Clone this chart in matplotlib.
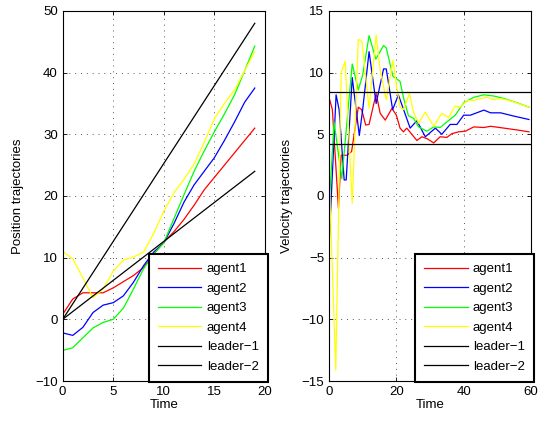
import matplotlib
matplotlib.use("Agg")
import matplotlib.pyplot as plt
import numpy as np

plt.rcParams['font.family'] = ['Liberation Sans', 'DejaVu Sans']

# ---------------- Position data ----------------
t_pos = list(range(20))
pos_agent1 = [0.8, 3.3, 4.3, 4.3, 4.3, 5.1, 6.1, 7.1, 8.4, 10.6, 12.5, 14.2, 16.2, 18.5, 21.0, 23.0, 25.0, 27.0, 29.0, 31.0]
pos_agent2 = [-2.2, -2.6, -1.3, 1.1, 2.3, 2.7, 3.8, 6.0, 8.7, 10.9, 12.4, 15.5, 19.0, 21.8, 24.0, 26.2, 29.0, 32.0, 35.2, 37.5]
pos_agent3 = [-5.05, -4.6, -3.0, -1.4, -0.5, 0.0, 1.8, 4.9, 8.2, 10.6, 12.4, 16.3, 20.2, 24.0, 27.3, 30.4, 33.3, 36.4, 40.3, 44.3]
pos_agent4 = [11.0, 9.8, 6.7, 3.5, 4.9, 7.8, 9.6, 10.1, 10.9, 13.9, 17.5, 20.5, 22.7, 25.2, 28.7, 32.5, 35.0, 37.2, 40.3, 43.4]
pos_leader1_end = 48.0
pos_leader2_end = 24.0

# ---------------- Velocity data ----------------
vt_agent1 = [0, 1, 2.8, 3.6, 5.3, 6.7, 8.7, 9.7, 10.9, 11.9, 14, 15.2, 16.7, 18.7, 20, 21.1, 22.1, 23.1, 26.1, 27.6, 29.1, 31.1, 33, 35, 36.5, 38.5, 40.5, 43, 46, 48, 52, 55.9, 59.4]
v_agent1 = [8.0, 7.0, -1.0, 3.3, 3.3, 3.6, 7.2, 7.0, 5.75, 5.8, 8.3, 6.7, 6.15, 7.1, 6.55, 5.5, 5.2, 5.5, 4.5, 4.8, 4.65, 4.3, 4.8, 4.75, 5.05, 5.2, 5.25, 5.6, 5.55, 5.65, 5.5, 5.35, 5.2]

vt_agent2 = [0, 2.1, 3, 4.5, 5.1, 6.9, 9, 10, 11.9, 14, 16.2, 17, 18.9, 20.6, 24.1, 26.1, 28.6, 31.6, 33.5, 36, 38, 40, 42, 46, 48, 51, 55, 59.4]
v_agent2 = [-4.0, 8.2, 7.0, 1.3, 1.3, 9.6, 4.9, 7.0, 11.7, 7.5, 10.3, 10.3, 7.0, 8.2, 5.5, 6.1, 4.8, 5.5, 5.0, 5.8, 5.8, 6.55, 6.55, 6.96, 6.74, 6.74, 6.47, 6.2]

vt_agent3 = [0, 1.5, 3.8, 6.9, 8.7, 10, 11.9, 13.9, 16.2, 17, 19, 20, 21.1, 22.1, 23.6, 25.1, 26.6, 29.1, 31.1, 33, 35, 37.5, 40, 43, 46, 49, 52, 55.9, 59.4]
v_agent3 = [-1.0, 6.0, 1.4, 10.7, 8.6, 9.8, 13.0, 11.1, 12.2, 12.0, 9.7, 9.5, 9.3, 8.0, 6.5, 6.3, 5.6, 5.25, 5.6, 5.55, 6.0, 6.55, 7.55, 8.0, 8.2, 8.1, 7.9, 7.55, 7.2]

vt_agent4 = [0, 2, 3.6, 4.8, 6.9, 8.7, 9.8, 11.9, 14, 15.2, 17, 19, 20.1, 21.1, 22.1, 23.9, 25.1, 26.6, 28.6, 31.1, 33.5, 35.5, 37.5, 39, 41, 43, 45, 47, 49, 51, 54, 59.4]
v_agent4 = [2.0, -14.1, 10.0, 10.9, -0.6, 12.7, 12.5, 7.1, 13.05, 10.2, 7.8, 11.0, 8.85, 7.2, 7.0, 8.3, 6.8, 5.9, 6.8, 5.65, 6.7, 6.35, 7.3, 7.2, 7.75, 7.75, 7.9, 8.0, 7.8, 7.9, 7.7, 7.2]

v_leader1 = 8.42
v_leader2 = 4.21

labels = ['agent1', 'agent2', 'agent3', 'agent4', 'leader\u22121', 'leader\u22122']
colors = ['#ff0000', '#0000ff', '#00ff00', '#ffff00', 'k', 'k']

fig = plt.figure(figsize=(5.45, 4.21), dpi=100)
fs = 9.5
lw = 0.9

def style(ax):
    ax.tick_params(direction='in', length=3, labelsize=fs, top=True, right=True, width=0.6)
    ax.grid(True, linestyle=(0, (1, 5)), color='#555555', linewidth=0.7)
    for s in ax.spines.values():
        s.set_linewidth(0.8)

# Left axes
ax1 = fig.add_axes([0.115, 0.095, 0.371, 0.879])
for ys, c, l in zip([pos_agent1, pos_agent2, pos_agent3, pos_agent4], colors[:4], labels[:4]):
    ax1.plot(t_pos, ys, color=c, lw=lw, label=l)
ax1.plot([t_pos[0], t_pos[-1]], [0, pos_leader1_end], color='k', lw=lw, label=labels[4])
ax1.plot([t_pos[0], t_pos[-1]], [0, pos_leader2_end], color='k', lw=lw, label=labels[5])
ax1.set_xlim(0, 20)
ax1.set_ylim(-10, 50)
ax1.set_xticks([0, 5, 10, 15, 20])
ax1.set_yticks([-10, 0, 10, 20, 30, 40, 50])
ax1.set_yticklabels(['\u221210', '0', '10', '20', '30', '40', '50'])
style(ax1)
ax1.set_xlabel('Time', fontsize=fs, labelpad=1)
ax1.set_ylabel('Position trajectories', fontsize=fs, labelpad=8)

# Right axes
ax2 = fig.add_axes([0.6037, 0.095, 0.3706, 0.879])
for ts, ys, c, l in zip([vt_agent1, vt_agent2, vt_agent3, vt_agent4],
                        [v_agent1, v_agent2, v_agent3, v_agent4], colors[:4], labels[:4]):
    ax2.plot(ts, ys, color=c, lw=lw, label=l)
ax2.plot([0, 60], [v_leader1, v_leader1], color='k', lw=lw, label=labels[4])
ax2.plot([0, 60], [v_leader2, v_leader2], color='k', lw=lw, label=labels[5])
ax2.set_xlim(0, 60)
ax2.set_ylim(-15, 15)
ax2.set_xticks([0, 20, 40, 60])
ax2.set_yticks([-15, -10, -5, 0, 5, 10, 15])
ax2.set_yticklabels(['\u221215', '\u221210', '\u22125', '0', '5', '10', '15'])
style(ax2)
ax2.set_xlabel('Time', fontsize=fs, labelpad=1)
ax2.set_ylabel('Velocity trajectories', fontsize=fs, labelpad=6)

for ax in (ax1, ax2):
    leg = ax.legend(loc='lower right', bbox_to_anchor=(1.015, -0.003), fontsize=fs,
                    handlelength=3.3, labelspacing=0.55, borderpad=0.7,
                    handletextpad=0.4, fancybox=False, framealpha=1, borderaxespad=0)
    leg.get_frame().set_edgecolor('k')
    leg.get_frame().set_linewidth(1.5)

fig.savefig('out.png', dpi=100)
